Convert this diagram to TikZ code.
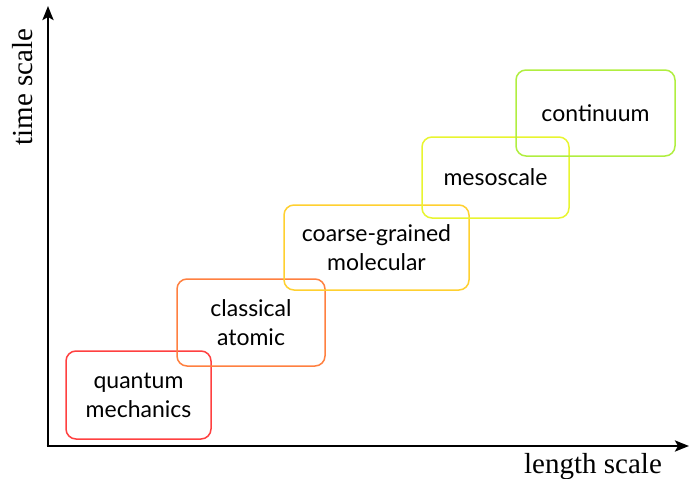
\documentclass[tikz,border=0pt]{standalone}
\usepackage{fontspec}
\setmainfont{Liberation Serif}
\newfontfamily\boxfont{Lato}
\usetikzlibrary{arrows.meta}
\definecolor{cquantum}{HTML}{FF4040}
\definecolor{cclassical}{HTML}{FF8040}
\definecolor{ccoarse}{HTML}{FFD030}
\definecolor{cmeso}{HTML}{E8F530}
\definecolor{ccont}{HTML}{B0EE40}
\tikzset{
  scalebox/.style={draw=#1, line width=1.5pt, rounded corners=10pt,
    inner sep=0pt, align=center, font=\boxfont\fontsize{23}{29}\selectfont},
  axis/.style={line width=2.6pt, -{Stealth[length=14pt,width=11pt,inset=3pt]}},
  axislabel/.style={font=\fontsize{29}{32}\selectfont, inner sep=0pt}
}
\begin{document}
\begin{tikzpicture}[x=1pt,y=-1pt]
\useasboundingbox (0,0) rectangle (689,479);
% axes
\coordinate (origin) at (48,446);
\coordinate (xend) at (689,446);
\coordinate (yend) at (48,6);
\draw[axis] ([xshift=-1.3pt]origin) -- (xend);
\draw[axis] ([yshift=1.3pt]origin) -- (yend);
\node[axislabel, anchor=base] (xlabel) at (593,473) {length scale};
\node[axislabel, anchor=base, rotate=90] (ylabel) at (32,87) {time scale};
% modelling scales
\node[scalebox=cquantum, minimum width=145pt, minimum height=88pt] (quantum) at (138.5,395) {quantum\\mechanics};
\node[scalebox=cclassical, minimum width=148pt, minimum height=87pt] (classical) at (251,322.5) {classical\\atomic};
\node[scalebox=ccoarse, minimum width=185pt, minimum height=85pt] (coarse) at (376.5,247.5) {coarse-grained\\molecular};
\node[scalebox=cmeso, minimum width=147pt, minimum height=81pt] (meso) at (495.5,177.5) {mesoscale};
\node[scalebox=ccont, minimum width=159pt, minimum height=86pt] (cont) at (595.5,113) {continuum};
\end{tikzpicture}
\end{document}
